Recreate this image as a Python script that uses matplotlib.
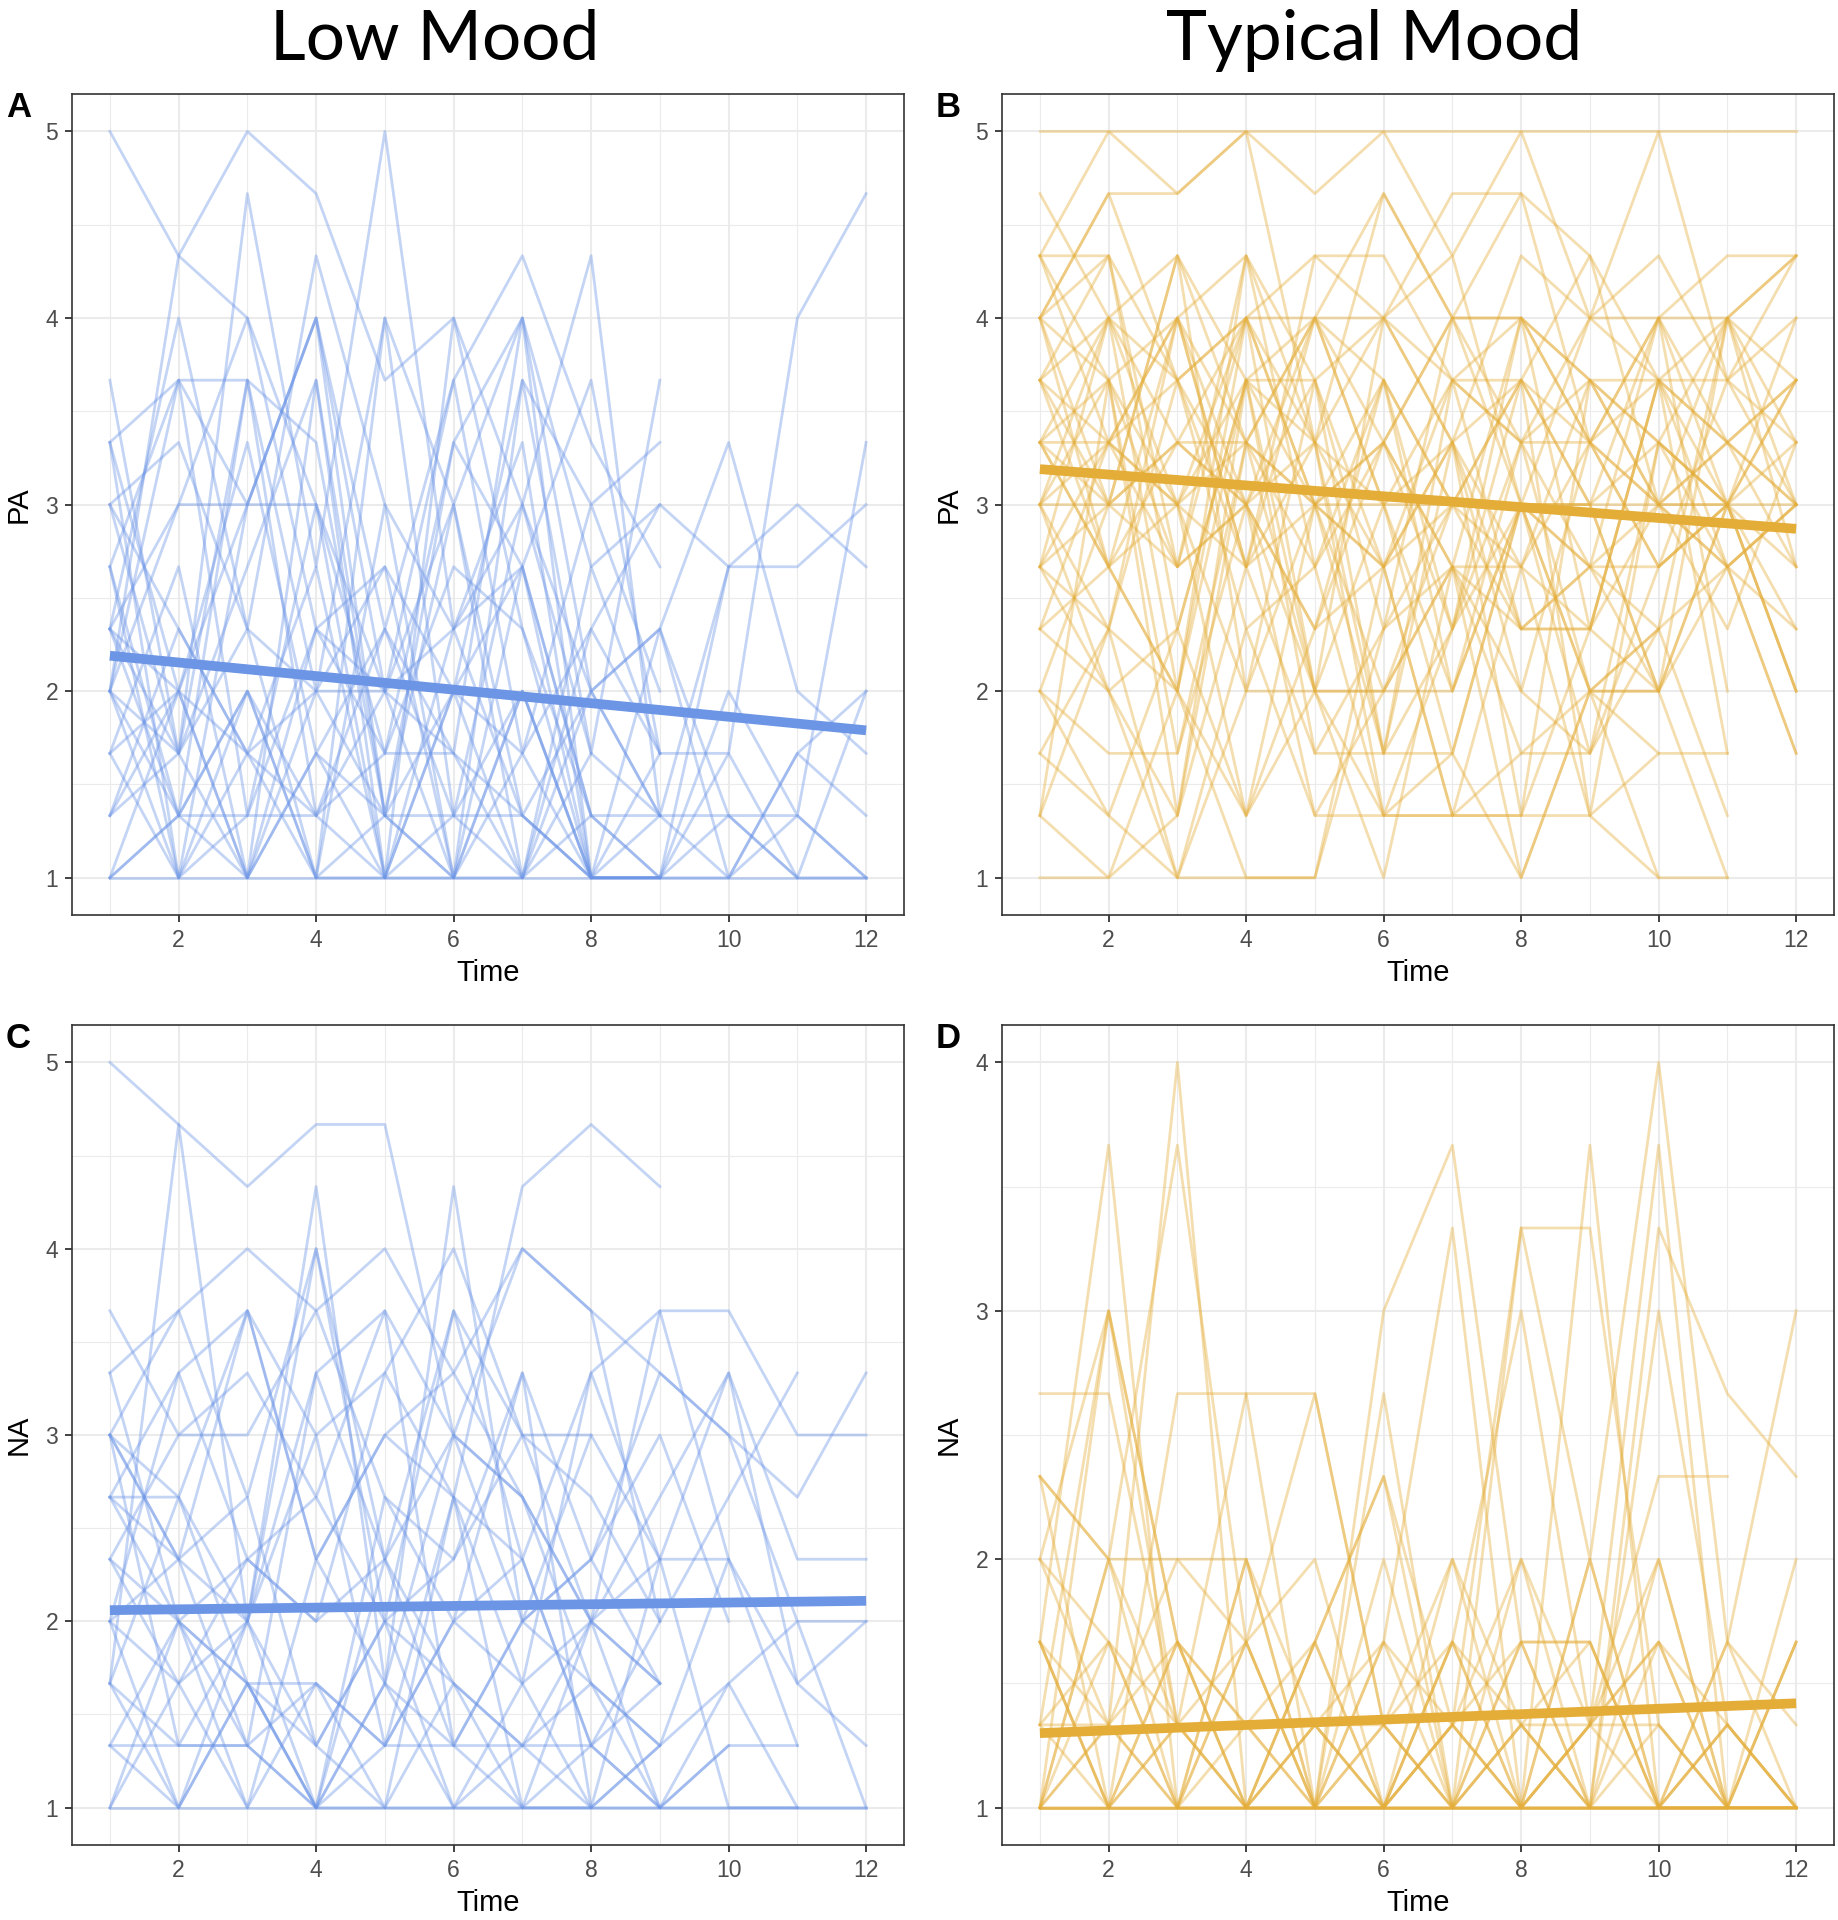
import numpy as np
import matplotlib.pyplot as plt
from matplotlib.ticker import MultipleLocator

plt.rcParams["font.family"] = ["Liberation Sans", "DejaVu Sans"]

# Scores are stored as sums of three 1-5 items (3..15); value = sum / 3. N = missing wave.
N = None
times = list(range(1, 13))

pa_low_x3 = [
    [15, 13, 12, 9, 6, 5, 4, 3, N, N, N, N],
    [6, 13, 15, 14, 11, 12, 9, 6, 4, N, N, N],
    [11, 5, 14, 8, 15, 7, 10, 3, 5, N, N, N],
    [8, 11, 11, 6, 12, 9, 12, 6, 7, 3, 5, 6],
    [10, 11, 9, 12, 7, 11, 13, 10, 8, N, N, N],
    [9, 10, 7, 13, 9, 7, 9, 13, 4, 8, N, N],
    [7, 12, 7, 6, 8, 3, 11, 5, 11, N, N, N],
    [7, 9, 12, 7, 5, 10, 8, 4, 3, 6, 4, 10],
    [6, 9, 9, 9, 3, 6, 8, 4, 4, 3, 4, 3],
    [5, 3, 9, 12, 4, 9, 3, 5, N, N, N, N],
    [8, 4, 3, 7, 6, 3, 8, 3, N, N, N, N],
    [6, 4, 11, 4, 5, 8, 7, 3, 3, N, N, N],
    [4, 6, 3, 11, 3, 12, 7, 4, N, N, N, N],
    [3, 4, 6, 3, 9, 3, 6, 3, 3, 5, 3, N],
    [8, 3, 4, 9, 5, 5, 3, 7, 5, N, N, N],
    [5, 6, 5, 3, 3, 7, 4, 3, 4, N, N, N],
    [7, 6, 10, 5, 7, 5, 12, 3, 3, N, N, N],
    [3, 4, 4, 4, 3, 4, 4, 3, 3, 4, 3, 3],
    [3, 3, 3, 3, 3, 3, 3, 3, 3, 3, 3, 3],
    [9, 5, 11, 10, 4, 10, 12, 8, 9, N, N, N],
    [6, 11, 4, 7, 8, 6, 11, 9, 10, N, N, N],
    [10, 6, 9, 12, 6, 7, 8, 11, 5, N, N, N],
    [7, 5, 8, 11, 4, 6, 3, 8, 5, 5, 12, 14],
    [4, 7, 5, 6, 6, 9, 4, 6, 7, 10, 6, 5],
    [6, 5, 7, 3, 12, 4, 6, 3, 3, 8, 8, 9],
    [9, 7, 5, 8, 3, 6, 5, 7, 9, 8, 9, 8],
    [5, 8, 3, 5, 4, 4, 9, 5, 4, 4, 4, 3],
    [10, 3, 6, 4, 6, 11, 5, 9, 6, N, N, N],
    [3, 6, 3, 5, 3, 3, 5, 3, 3, 3, 5, 4],
    [7, 4, 6, 3, 4, 3, 6, 3, 7, 4, 3, 6],
    [4, 5, 3, 6, 4, 3, 3, 4, 3, N, N, N],
    [6, 3, 5, 4, 7, 4, 3, 6, 4, N, N, N],
]

pa_typ_x3 = [
    [15, 15, 15, 15, 15, 15, 15, 15, 15, 15, 15, 15],
    [13, 15, 14, 15, 14, 15, 13, 15, 12, 15, 11, 13],
    [12, 14, 14, 15, 10, 14, 12, 14, 10, 12, 13, 13],
    [13, 13, 11, 12, 13, 12, 14, 14, 13, 11, 12, 13],
    [12, 13, 8, 13, 11, 12, 11, 12, 10, 12, 12, 10],
    [11, 12, 10, 12, 12, 11, 9, 11, 9, 10, 9, 11],
    [10, 9, 13, 10, 12, 10, 12, 12, 11, 9, 10, 11],
    [9, 11, 4, 11, 10, 5, 10, 4, 11, 9, 8, 9],
    [10, 8, 12, 8, 12, 9, 11, 10, 10, 8, 11, 10],
    [9, 9, 9, 10, 9, 8, 9, 9, 9, 9, 9, 8],
    [8, 12, 6, 13, 8, 4, 7, 11, 4, 10, 8, 9],
    [12, 8, 10, 9, 11, 7, 12, 9, 8, 12, 9, 7],
    [11, 10, 11, 7, 8, 10, 8, 12, 7, 11, 10, 8],
    [9, 7, 12, 9, 7, 11, 7, 10, 8, 9, 9, 11],
    [8, 9, 8, 12, 9, 6, 9, 8, 10, 8, 9, 12],
    [7, 10, 9, 8, 10, 9, 6, 9, 6, 7, 12, 9],
    [10, 11, 5, 10, 6, 12, 10, 7, 7, 9, 8, 5],
    [12, 9, 13, 6, 9, 9, 5, 9, 9, 6, 9, 9],
    [8, 6, 7, 11, 6, 6, 8, 6, 10, 9, 7, 10],
    [7, 8, 9, 6, 11, 5, 11, 7, 7, 6, 9, N],
    [6, 9, 10, 9, 7, 10, 8, 8, 7, 11, 5, N],
    [9, 6, 4, 10, 8, 11, 6, 10, 6, 6, N, N],
    [5, 7, 11, 8, 9, 5, 7, 9, 8, 7, 8, 7],
    [10, 12, 9, 4, 7, 8, 10, 6, 5, 10, 9, 6],
    [11, 13, 7, 11, 5, 7, 9, 11, 9, 12, 6, N],
    [4, 11, 8, 9, 10, 4, 5, 9, 5, 8, 9, N],
    [3, 3, 6, 3, 3, 7, 8, 5, 6, 3, 3, N],
    [6, 4, 3, 3, 3, 8, 4, 4, 4, 3, N, N],
    [4, 7, 3, 7, 4, 6, 8, 3, 6, 7, 4, N],
    [13, 10, 12, 13, 10, 12, 10, 13, 12, 11, 11, 9],
    [12, 11, 12, 8, 13, 13, 11, 10, 12, 13, 11, 12],
    [9, 12, 11, 12, 9, 10, 12, 10, 11, 10, 12, 13],
    [14, 12, 13, 11, 12, 14, 12, 12, 11, 11, 10, 11],
    [10, 10, 9, 11, 11, 8, 11, 11, 10, 9, 10, 9],
    [11, 9, 10, 10, 12, 9, 10, 8, 11, 10, 9, 10],
    [9, 10, 8, 9, 6, 9, 9, 7, 8, 8, 9, 6],
    [13, 11, 9, 12, 10, 8, 10, 11, 13, 9, 12, 8],
    [8, 10, 12, 10, 9, 11, 9, 9, 9, 6, 12, 11],
    [10, 8, 6, 11, 9, 10, 7, 12, 10, 11, 8, 9],
    [12, 14, 11, 9, 12, 12, 13, 9, 12, 12, 10, 9],
    [5, 4, 7, 4, 9, 8, 4, 4, 7, 11, 9, 6],
    [4, 3, 4, 8, 5, 5, 5, 3, 6, 5, N, N],
    [7, 6, 3, 6, 6, 6, 6, 9, 6, 6, 3, N],
    [6, 5, 5, 9, 4, 4, 4, 8, 4, 5, 5, N],
    [8, 7, 6, 4, 6, 4, 4, 5, 5, 7, N, N],
    [11, 8, 6, 12, 6, 3, 8, 7, 8, 6, 8, 5],
]

na_low_x3 = [
    [15, 14, 13, 14, 14, 9, 8, 6, 5, N, N, N],
    [9, 8, 11, 7, 9, 8, 13, 14, 13, N, N, N],
    [5, 14, 6, 13, 5, 13, 6, 9, N, N, N, N],
    [10, 11, 12, 11, 12, 10, 12, 11, 6, N, N, N],
    [9, 11, 8, 12, 6, 11, 7, 10, 11, 7, N, N],
    [8, 10, 11, 9, 10, 12, 9, 6, 11, 11, 9, 9],
    [11, 9, 10, 8, 11, 9, 12, 11, 10, 9, 8, 10],
    [9, 7, 11, 7, 9, 10, 8, 6, 8, 10, 7, 7],
    [8, 8, 6, 10, 7, 9, 6, 7, 10, 9, 6, 6],
    [7, 9, 9, 11, 8, 7, 9, 8, 6, 8, 10, N],
    [10, 6, 7, 6, 10, 8, 5, 10, 7, 7, 4, N],
    [8, 7, 4, 10, 11, 4, 6, 7, 9, 6, N, N],
    [6, 10, 7, 8, 6, 7, 10, 7, 5, N, N, N],
    [7, 5, 6, 9, 4, 6, 7, 4, 5, N, N, N],
    [9, 4, 6, 3, 5, 9, 8, 5, 4, 7, 5, 4],
    [5, 4, 4, 3, 3, 3, 3, 3, 3, 3, 3, 3],
    [3, 3, 3, 3, 3, 3, 3, 3, 3, 3, 3, 3],
    [6, 5, 7, 6, 7, 4, 6, 5, 4, 5, 3, N],
    [5, 3, 5, 3, 4, 4, 3, 6, 5, N, N, N],
    [4, 6, 5, 3, 7, 5, 4, 4, 6, N, N, N],
    [7, 6, 4, 5, 4, 6, 5, 3, 7, N, N, N],
    [3, 5, 3, 7, 5, 3, 5, 6, 3, 4, 4, N],
    [8, 6, 5, 5, 3, 8, 7, 4, 3, N, N, N],
    [6, 7, 8, 4, 6, 5, 4, 6, 7, 3, 3, N],
    [4, 3, 6, 4, 6, 3, 4, 5, 3, 5, 6, 3],
    [3, 6, 3, 5, 4, 8, 3, 3, 4, N, N, N],
    [9, 7, 6, 12, 7, 11, 9, 9, 7, 10, 5, 6],
    [5, 8, 5, 3, 8, 6, 10, 3, N, N, N, N],
    [4, 4, 4, 3, 5, 4, 4, 3, 4, N, N, N],
    [6, 3, 5, 4, 3, 5, 3, 4, 3, 4, N, N],
]

na_typ_x3 = [
    [3, 3, 3, 3, 3, 3, 3, 3, 3, 3, 3, 3],
    [3, 3, 3, 3, 3, 3, 3, 3, 3, 3, 3, 3],
    [3, 3, 3, 3, 3, 3, 3, 3, 3, 3, 3, N],
    [8, 8, 4, 8, 8, 4, 5, 9, 4, 5, 3, N],
    [4, 9, 5, 4, 3, 9, 11, 5, 3, 10, 8, 7],
    [7, 6, 11, 5, 8, 4, 3, 10, 6, 12, 5, 3],
    [5, 11, 3, 3, 5, 3, 4, 3, 11, 3, 3, 3],
    [7, 6, 3, 6, 3, 8, 3, 3, 4, 7, 7, N],
    [6, 9, 4, 4, 5, 7, 4, 6, 4, 3, 5, 9],
    [3, 6, 6, 6, 3, 3, 5, 3, 6, 3, 4, 3],
    [6, 5, 3, 6, 4, 3, 6, 4, 4, 6, 3, N],
    [5, 3, 4, 3, 5, 7, 3, 5, 5, 3, 4, 3],
    [3, 4, 3, 5, 3, 3, 5, 3, 6, 3, 3, 6],
    [4, 3, 5, 3, 4, 5, 3, 4, 3, 3, 5, 4],
    [7, 3, 3, 4, 3, 4, 3, 4, 3, 9, 4, 3],
    [3, 3, 5, 3, 3, 5, 4, 3, 3, 3, 3, 5],
    [4, 5, 4, 3, 4, 4, 3, 5, 5, 3, 3, N],
    [5, 3, 4, 5, 3, 3, 4, 3, 4, 4, 3, 3],
    [3, 6, 4, 3, 5, 3, 5, 4, 3, 6, 3, 5],
    [6, 4, 5, 3, 3, 3, 3, 6, 3, 3, 3, 3],
    [3, 9, 5, 4, 4, 3, 3, 4, 5, 3, 4, N],
    [4, 4, 3, 5, 6, 3, 4, 5, 3, 4, 3, 5],
    [5, 4, 6, 5, 3, 4, 6, 3, 4, 5, 4, 3],
    [3, 5, 3, 3, 3, 6, 3, 3, 3, 5, 3, 3],
    [3, 4, 12, 3, 4, 3, 4, 10, 10, 4, 3, 3],
    [5, 3, 8, 8, 3, 5, 10, 3, 4, 11, 3, 3],
]

# fitted line (value at Time 1, value at Time 12)
fit_pa_low = [2.19, 1.79]
fit_pa_typ = [3.19, 2.87]
fit_na_low = [2.06, 2.11]
fit_na_typ = [1.30, 1.42]

blue = "#6C95E6"
gold = "#E4AD38"

fig = plt.figure(figsize=(18.38, 19.2), dpi=100)

panels = [
    ("A", pa_low_x3, fit_pa_low, blue, "PA", [0.0392, 0.5234, 0.4526, 0.4276], 5),
    ("B", pa_typ_x3, fit_pa_typ, gold, "PA", [0.5452, 0.5234, 0.4526, 0.4276], 5),
    ("C", na_low_x3, fit_na_low, blue, "NA", [0.0392, 0.0391, 0.4526, 0.4270], 5),
    ("D", na_typ_x3, fit_na_typ, gold, "NA", [0.5452, 0.0391, 0.4526, 0.4270], 4),
]

for letter, rows, fit, color, ylab, rect, ymax in panels:
    ax = fig.add_axes(rect)
    for row in rows:
        y = np.array([np.nan if v is None else v / 3 for v in row])
        ax.plot(times, y, color=color, lw=2.0, alpha=0.4, zorder=2)
    ax.plot([times[0], times[-1]], fit, color=color, lw=7, solid_capstyle="butt", zorder=3)

    span = ymax - 1
    ax.set_ylim(1 - 0.05 * span, ymax + 0.05 * span)
    ax.set_xlim(0.45, 12.55)
    ax.xaxis.set_major_locator(MultipleLocator(2))
    ax.xaxis.set_minor_locator(MultipleLocator(1))
    ax.yaxis.set_major_locator(MultipleLocator(1))
    ax.yaxis.set_minor_locator(MultipleLocator(0.5))
    ax.grid(True, which="major", color="#EBEBEB", lw=1.5, zorder=0)
    ax.grid(True, which="minor", color="#EBEBEB", lw=0.8, zorder=0)
    ax.set_axisbelow(True)
    ax.tick_params(which="major", length=5, width=1.3, color="#333333",
                   labelsize=16.5, labelcolor="#4D4D4D", pad=5)
    ax.tick_params(which="minor", length=0)
    for sp in ax.spines.values():
        sp.set_color("#333333")
        sp.set_linewidth(1.2)
    ax.set_xlabel("Time", fontsize=21, labelpad=5)
    ax.set_ylabel(ylab, fontsize=21, labelpad=9)

    fig.text(rect[0] - 0.036, rect[1] + rect[3] - 0.007, letter, fontsize=25,
             fontweight="bold", ha="left", va="center")

fig.text(0.2367, 0.979, "Low Mood", fontsize=50, family=["Lato", "DejaVu Sans"],
         ha="center", va="center")
fig.text(0.7475, 0.979, "Typical Mood", fontsize=50, family=["Lato", "DejaVu Sans"],
         ha="center", va="center")

fig.savefig("out.png", dpi=100)
